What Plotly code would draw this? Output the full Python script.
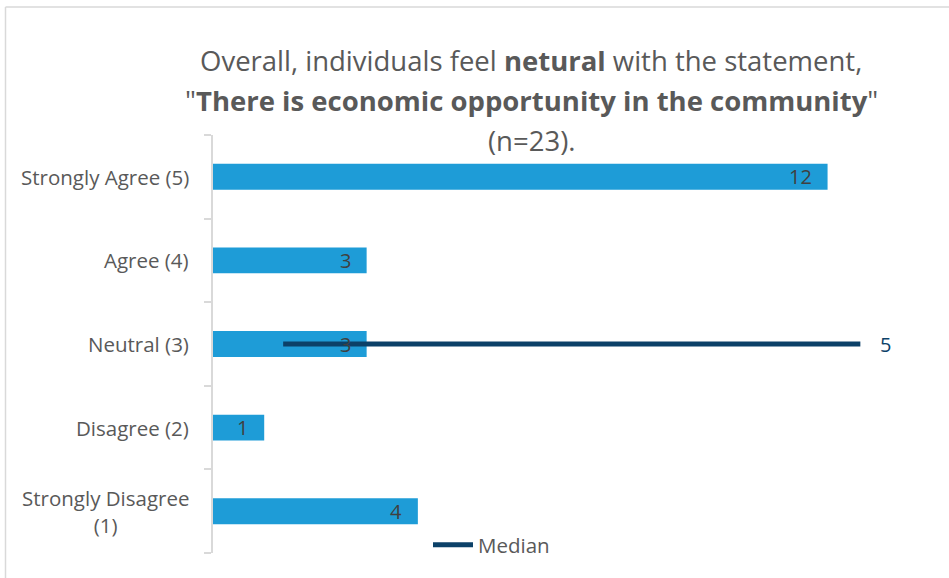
import plotly.graph_objects as go

# Survey responses, listed bottom-to-top on the chart
categories = ["Strongly Disagree (1)", "Disagree (2)", "Neutral (3)", "Agree (4)", "Strongly Agree (5)"]
category_labels = ["Strongly Disagree<br>(1)", "Disagree (2)", "Neutral (3)", "Agree (4)", "Strongly Agree (5)"]
counts = [4, 1, 3, 3, 12]

# Median marker line drawn across the Neutral row
median_x = [1.37, 12.64]
median_y = ["Neutral (3)", "Neutral (3)"]
median_label = "5"

title_lines = [
    "Overall, individuals feel <b>netural</b> with the statement,",
    "\"<b>There is economic opportunity in the community</b>\"",
    "(n=23).",
]

FONT = "Open Sans"
BAR_COLOR = "#1E9CD7"
MEDIAN_COLOR = "#0C4168"
TEXT_GREY = "#595959"
LABEL_GREY = "#404040"
AXIS_GREY = "#D9D9D9"

W, H = 949, 578
ML, MR, MT, MB = 213, 19, 135, 25
plot_w = W - ML - MR
plot_h = H - MT - MB


def px_x(p):
    return (p - ML) / plot_w


def px_y(p):
    return (H - MB - p) / plot_h


fig = go.Figure()

fig.add_trace(go.Bar(
    y=categories,
    x=counts,
    orientation="h",
    width=0.31,
    marker=dict(color=BAR_COLOR, line=dict(width=0)),
    showlegend=False,
    hoverinfo="x+y",
))

fig.add_trace(go.Scatter(
    x=median_x,
    y=median_y,
    mode="lines",
    name="Median",
    line=dict(color=MEDIAN_COLOR, width=5),
    showlegend=True,
))

annotations = []

# Value labels at the inside end of each bar
for cat, v in zip(categories, counts):
    annotations.append(dict(
        x=v, y=cat, xref="x", yref="y",
        text=str(v), showarrow=False,
        xanchor="right", xshift=-14,
        font=dict(family=FONT, size=20, color=LABEL_GREY),
    ))

# Median value label beyond the end of the line
annotations.append(dict(
    x=median_x[-1], y=median_y[-1], xref="x", yref="y",
    text=median_label, showarrow=False,
    xanchor="left", xshift=18,
    font=dict(family=FONT, size=20, color=MEDIAN_COLOR),
))

# Category labels (centred multi-line text)
for cat, lab in zip(categories, category_labels):
    annotations.append(dict(
        x=0, y=cat, xref="paper", yref="y",
        text=lab, showarrow=False, align="center",
        xanchor="right", xshift=-22,
        font=dict(family=FONT, size=20.5, color=TEXT_GREY),
    ))

# Three-line title
for line, yp in zip(title_lines, [60, 100, 140]):
    annotations.append(dict(
        x=px_x(531), y=px_y(yp), xref="paper", yref="paper",
        text=line, showarrow=False, xanchor="center", yanchor="middle",
        font=dict(family=FONT, size=27.5, color=TEXT_GREY),
    ))

shapes = [
    # chart frame (top and left edges)
    dict(type="line", xref="paper", yref="paper",
         x0=px_x(5.5), x1=px_x(W + 5), y0=px_y(7), y1=px_y(7),
         line=dict(color=AXIS_GREY, width=1.5)),
    dict(type="line", xref="paper", yref="paper",
         x0=px_x(5.5), x1=px_x(5.5), y0=px_y(7), y1=px_y(H + 5),
         line=dict(color=AXIS_GREY, width=1.5)),
]

fig.update_layout(
    width=W, height=H,
    margin=dict(l=ML, r=MR, t=MT, b=MB, pad=0),
    paper_bgcolor="white",
    plot_bgcolor="white",
    font=dict(family=FONT, color=TEXT_GREY),
    xaxis=dict(range=[0, 14], visible=False, fixedrange=True),
    yaxis=dict(
        type="category",
        categoryorder="array", categoryarray=categories,
        showticklabels=False,
        showline=True, linecolor=AXIS_GREY, linewidth=1.5,
        ticks="outside", tickson="boundaries", ticklen=7,
        tickcolor=AXIS_GREY, tickwidth=1.5,
        showgrid=False, zeroline=False,
    ),
    legend=dict(
        x=px_x(428), y=px_y(545), xanchor="left", yanchor="middle",
        bgcolor="rgba(0,0,0,0)",
        font=dict(family=FONT, size=20.5, color=TEXT_GREY),
        itemwidth=40,
    ),
    bargap=0.69,
    annotations=annotations,
    shapes=shapes,
)

fig.write_html("out.html")
